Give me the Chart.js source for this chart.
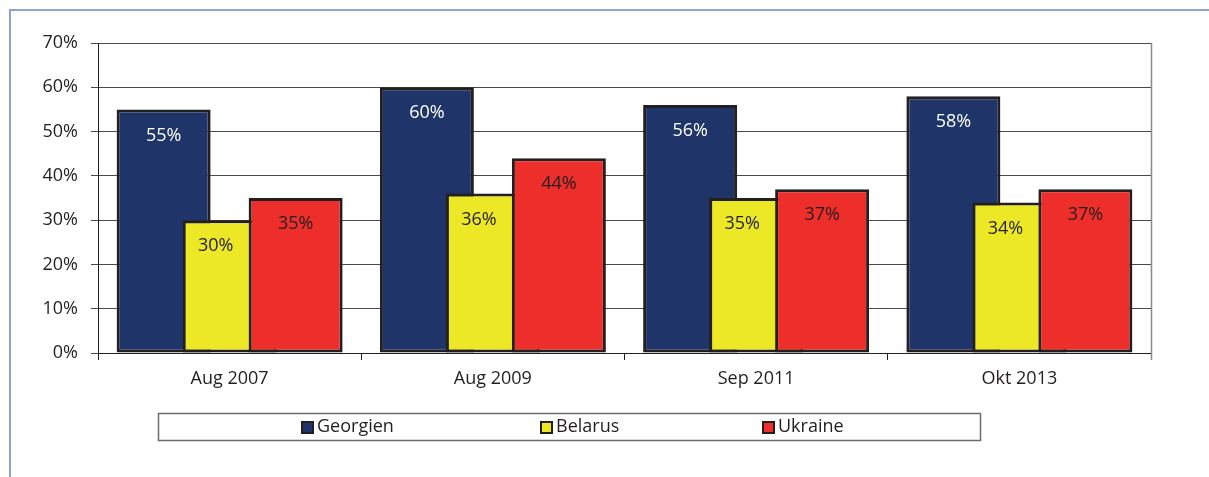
<!DOCTYPE html>
<html><head><meta charset="utf-8">
<script src="https://cdn.jsdelivr.net/npm/chart.js@4/dist/chart.umd.min.js"></script>
<style>
html,body{margin:0;padding:0;background:#fff;}
#wrap{position:relative;width:1209px;height:477px;overflow:hidden;}
#frame{position:absolute;left:9px;top:9px;width:1220px;height:480px;border-top:2px solid #8fa2d6;border-left:2px solid #8fa2d6;}
canvas{position:absolute;left:0;top:0;}
</style></head><body>
<div id="wrap"><div id="frame"></div><canvas id="c" width="1209" height="477"></canvas></div>
<script>
const categories = ['Aug 2007', 'Aug 2009', 'Sep 2011', 'Okt 2013'];
const seriesNames = ['Georgien', 'Belarus', 'Ukraine'];
const georgien = [55, 60, 56, 58];
const belarus = [30, 36, 35, 34];
const ukraine = [35, 44, 37, 37];
const yTickValues = [0, 10, 20, 30, 40, 50, 60, 70];

const colors = ['#1f3569', '#ede826', '#ee2e2b'];
const labelColors = ['#ffffff', '#231f20', '#231f20'];
const FONT = "'Open Sans', sans-serif";
const INK = '#231f20';

Chart.defaults.font.family = FONT;
Chart.defaults.font.size = 18;
Chart.defaults.color = INK;

// draw datasets in forward order so later series overlap earlier ones, then value labels
const orderPlugin = {
  id: 'orderPlugin',
  beforeDatasetsDraw(chart) {
    const metas = chart.getSortedVisibleDatasetMetas();
    for (const m of metas) chart._drawDataset(m);
    const ctx = chart.ctx;
    ctx.save();
    ctx.font = '18px ' + FONT;
    ctx.textAlign = 'center';
    ctx.textBaseline = 'middle';
    metas.forEach((m, di) => {
      m.data.forEach((el, j) => {
        const p = el.getProps(['x', 'y', 'width'], true);
        const ly = p.y + 26;
        let left = p.x - p.width / 2;
        let right = p.x + p.width / 2;
        const next = metas[di + 1];
        if (next) {
          const np = next.data[j].getProps(['x', 'y', 'width'], true);
          const nl = np.x - np.width / 2;
          if (np.y < ly && nl < right) right = nl;
        }
        ctx.fillStyle = labelColors[di];
        const v = chart.data.datasets[m.index].data[j];
        ctx.fillText(v + '%', (left + right) / 2, ly);
      });
    });
    ctx.restore();
    return false;
  },
  afterDraw(chart) {
    const ctx = chart.ctx;
    const ca = chart.chartArea;
    ctx.save();
    // plot area right border
    ctx.strokeStyle = '#8a8a8a';
    ctx.lineWidth = 1.5;
    ctx.beginPath();
    ctx.moveTo(Math.round(ca.right) + 0.5, ca.top);
    ctx.lineTo(Math.round(ca.right) + 0.5, ca.bottom + 7);
    ctx.stroke();
    // legend box
    ctx.strokeStyle = '#6e6e6e';
    ctx.lineWidth = 1.5;
    ctx.strokeRect(158.5, 413.5, 822, 27);
    const xs = [301, 540, 762];
    ctx.font = '18px ' + FONT;
    ctx.textAlign = 'left';
    ctx.textBaseline = 'middle';
    chart.data.datasets.forEach((ds, i) => {
      ctx.fillStyle = INK;
      ctx.fillRect(xs[i], 421, 13, 13);
      ctx.fillStyle = ds.backgroundColor;
      ctx.fillRect(xs[i] + 2, 423, 9, 9);
      ctx.fillStyle = INK;
      ctx.fillText(ds.label, xs[i] + 16, 427);
    });
    ctx.restore();
  }
};

new Chart(document.getElementById('c'), {
  type: 'bar',
  data: {
    labels: categories,
    datasets: [
      { label: seriesNames[0], data: georgien, backgroundColor: colors[0] },
      { label: seriesNames[1], data: belarus, backgroundColor: colors[1] },
      { label: seriesNames[2], data: ukraine, backgroundColor: colors[2] }
    ].map(d => Object.assign(d, {
      borderColor: INK, borderWidth: 3, borderSkipped: false,
      categoryPercentage: 0.7521, barPercentage: 1.4242
    }))
  },
  plugins: [orderPlugin],
  options: {
    responsive: false,
    animation: false,
    devicePixelRatio: 1,
    layout: { padding: { top: 43, right: 58, left: 0, bottom: 0 } },
    plugins: { legend: { display: false }, tooltip: { enabled: false } },
    scales: {
      x: {
        afterFit(s) { s.height = 124; },
        grid: { display: true, drawOnChartArea: false, drawTicks: true, tickLength: 7, offset: true, color: INK },
        border: { color: INK, width: 1 },
        ticks: { padding: 8, color: INK, font: { size: 18 } }
      },
      y: {
        min: 0, max: 70,
        afterFit(s) { s.width = 98; },
        afterBuildTicks(s) { s.ticks = yTickValues.map(v => ({ value: v })); },
        grid: { color: '#4a4a4a', tickLength: 7, lineWidth: 1 },
        border: { color: INK, width: 1 },
        ticks: { padding: 13, color: INK, font: { size: 18 }, callback: v => v + '%' }
      }
    }
  }
});
</script>
</body></html>
